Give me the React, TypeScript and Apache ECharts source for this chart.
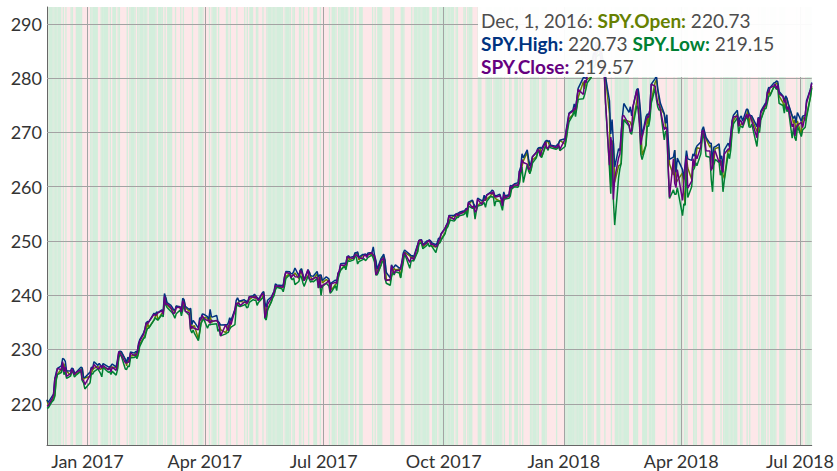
import React, { useEffect, useRef } from "react";
import * as echarts from "echarts";

// [day, open, high, low, close]
type Row = [number, number, number, number, number];

const dec2016: Row[] = [
  [1, 220.73, 220.73, 219.15, 219.57], [2, 219.67, 220.25, 219.26, 219.68], [5, 220.65, 221.4, 220.42, 221.0],
  [6, 221.22, 221.74, 220.66, 221.7], [7, 221.52, 224.67, 221.38, 224.6], [8, 224.57, 225.7, 224.26, 225.15],
  [9, 225.41, 226.53, 225.37, 226.51], [12, 226.4, 226.96, 225.76, 226.25], [13, 227.02, 228.34, 226.97, 227.76],
  [14, 227.41, 228.23, 225.37, 225.88], [15, 226.16, 227.81, 225.89, 226.81], [16, 226.01, 226.08, 224.67, 225.04],
  [19, 225.25, 226.02, 225.08, 225.53], [20, 226.15, 226.57, 225.88, 226.4], [21, 226.25, 226.45, 225.77, 225.77],
  [22, 225.6, 225.74, 224.92, 225.38], [23, 225.43, 225.72, 225.21, 225.71], [27, 226.02, 226.73, 226.0, 226.27],
  [28, 226.57, 226.59, 224.27, 224.4], [29, 224.48, 224.89, 223.84, 224.35], [30, 224.73, 224.83, 222.73, 223.53],
];
const jan2017: Row[] = [
  [3, 225.04, 225.83, 223.88, 225.24], [4, 225.62, 226.75, 225.61, 226.58], [5, 226.27, 226.58, 225.48, 226.4],
  [6, 226.53, 227.75, 225.9, 227.21], [9, 226.91, 227.07, 226.42, 226.46], [10, 226.48, 227.45, 226.01, 226.46],
  [11, 226.36, 227.1, 225.59, 227.1], [12, 226.5, 226.75, 224.96, 226.53], [13, 226.73, 227.4, 226.69, 227.05],
  [17, 226.4, 226.78, 225.8, 226.25], [18, 226.52, 226.8, 225.91, 226.75], [19, 226.84, 227.0, 225.41, 225.91],
  [20, 226.7, 227.31, 225.97, 226.74], [23, 226.74, 226.81, 225.27, 226.15], [24, 226.4, 228.08, 226.27, 227.6],
  [25, 228.7, 229.57, 228.51, 229.57], [26, 229.4, 229.71, 229.01, 229.33], [27, 229.42, 229.59, 228.76, 228.97],
  [30, 228.17, 228.2, 226.41, 227.55], [31, 226.98, 227.6, 226.32, 227.53],
];
const feb2017: Row[] = [
  [1, 228.49, 228.59, 226.94, 227.62], [2, 227.62, 228.1, 226.82, 227.77], [3, 228.82, 229.55, 228.46, 229.34],
  [6, 228.87, 229.33, 228.54, 228.93], [7, 229.38, 229.66, 228.72, 228.94], [8, 228.4, 229.39, 228.31, 229.24],
  [9, 229.24, 230.95, 229.24, 230.6], [10, 231.0, 231.77, 230.52, 231.51], [13, 232.08, 233.07, 232.04, 232.77],
  [14, 232.55, 233.71, 232.16, 233.7], [15, 233.45, 234.92, 233.18, 234.92], [16, 234.98, 235.15, 233.86, 234.72],
  [17, 234.01, 235.09, 233.93, 235.09], [21, 235.46, 236.69, 235.42, 236.49], [22, 236.05, 236.41, 235.84, 236.28],
  [23, 236.88, 236.9, 235.57, 236.44], [24, 235.43, 236.79, 235.42, 236.74], [27, 236.64, 237.31, 236.39, 237.11],
  [28, 236.88, 236.95, 236.02, 236.47],
];
const mar2017: Row[] = [
  [1, 238.39, 240.32, 238.37, 239.78], [2, 239.56, 239.57, 238.21, 238.27], [3, 238.17, 238.61, 237.73, 238.42],
  [6, 237.5, 238.12, 237.01, 237.71], [7, 237.37, 237.77, 236.76, 237.0], [8, 237.26, 237.36, 236.32, 236.56],
  [9, 236.68, 237.24, 235.74, 236.86], [10, 237.97, 238.02, 236.59, 237.69], [13, 237.62, 237.86, 237.24, 237.81],
  [14, 237.18, 237.24, 236.19, 236.9], [15, 237.56, 239.44, 237.29, 238.95], [16, 239.11, 239.2, 238.1, 238.48],
  [17, 237.75, 237.97, 237.03, 237.03], [20, 237.03, 237.36, 236.32, 236.77], [21, 237.47, 237.61, 233.58, 233.73],
  [22, 233.77, 234.61, 233.05, 234.28], [23, 234.28, 235.34, 233.6, 234.03], [24, 234.38, 235.04, 232.96, 233.86],
  [27, 231.93, 233.92, 231.61, 233.62], [28, 233.27, 235.81, 233.14, 235.32], [29, 234.99, 235.81, 234.73, 235.54],
  [30, 235.47, 236.52, 235.27, 236.29], [31, 235.91, 236.51, 235.68, 235.74],
];
const apr2017: Row[] = [
  [3, 235.81, 236.03, 233.91, 235.33], [4, 235.0, 235.58, 234.56, 235.48], [5, 236.26, 237.39, 234.54, 234.78],
  [6, 234.96, 236.04, 234.64, 235.44], [7, 235.18, 236.0, 234.64, 235.2], [10, 235.36, 236.26, 234.73, 235.34],
  [11, 235.0, 235.18, 233.34, 235.06], [12, 234.74, 234.96, 233.77, 234.03], [13, 233.64, 234.49, 232.51, 232.51],
  [17, 233.11, 234.57, 232.88, 234.57], [18, 233.72, 234.49, 233.08, 233.87], [19, 234.52, 234.95, 233.18, 233.44],
  [20, 233.91, 235.85, 233.78, 235.34], [21, 235.18, 235.31, 234.13, 234.59], [24, 237.18, 237.41, 234.56, 237.17],
  [25, 237.91, 239.04, 237.8, 238.55], [26, 238.51, 239.53, 238.35, 238.4], [27, 238.77, 238.95, 237.98, 238.6],
  [28, 238.9, 238.93, 237.93, 238.08],
];
const may2017: Row[] = [
  [1, 238.68, 239.17, 238.2, 238.68], [2, 238.84, 238.98, 238.3, 238.77], [3, 238.29, 238.88, 237.7, 238.48],
  [4, 238.83, 238.92, 237.78, 238.76], [5, 239.19, 239.72, 238.68, 239.7], [8, 239.75, 239.92, 239.17, 239.66],
  [9, 239.96, 240.19, 239.04, 239.44], [10, 239.39, 239.87, 239.15, 239.87], [11, 239.35, 239.57, 238.13, 239.38],
  [12, 239.09, 239.21, 238.67, 238.98], [15, 239.47, 240.44, 239.45, 240.3], [16, 240.62, 240.67, 239.63, 240.08],
  [17, 238.1, 238.64, 235.75, 235.82], [18, 235.73, 237.75, 235.43, 236.77], [19, 237.33, 239.08, 237.27, 238.31],
  [22, 238.9, 239.71, 238.82, 239.52], [23, 239.95, 240.24, 239.51, 240.05], [24, 240.32, 240.73, 239.93, 240.61],
  [25, 241.2, 242.08, 240.96, 241.76], [26, 241.54, 241.9, 241.45, 241.71], [30, 241.33, 241.79, 241.16, 241.5],
  [31, 241.84, 241.88, 240.64, 241.44],
];
const jun2017: Row[] = [
  [1, 241.97, 243.38, 241.64, 243.36], [2, 243.42, 244.35, 243.08, 244.17], [5, 243.99, 244.3, 243.76, 243.99],
  [6, 243.34, 243.98, 243.12, 243.21], [7, 243.6, 243.92, 242.83, 243.66], [8, 243.77, 244.33, 243.17, 243.78],
  [9, 244.09, 245.01, 241.95, 243.41], [12, 243.07, 243.57, 242.52, 243.36], [13, 243.99, 244.61, 243.58, 244.55],
  [14, 244.86, 244.87, 243.29, 244.24], [15, 242.68, 243.91, 242.36, 243.77], [16, 242.77, 242.83, 241.63, 242.64],
  [19, 243.59, 244.73, 243.48, 244.66], [20, 244.25, 244.26, 242.99, 243.01], [21, 243.43, 243.59, 242.41, 242.95],
  [22, 242.96, 243.53, 242.64, 242.84], [23, 242.91, 243.51, 242.47, 243.13], [26, 243.9, 244.38, 243.05, 243.29],
  [27, 243.04, 243.38, 241.31, 241.33], [28, 242.5, 243.72, 242.23, 243.49], [29, 243.66, 243.72, 239.96, 241.35],
  [30, 242.28, 242.71, 241.58, 241.8],
];
const jul2017: Row[] = [
  [3, 242.88, 243.38, 242.21, 242.21], [5, 242.63, 243.01, 241.7, 242.77], [6, 241.89, 242.03, 240.34, 240.55],
  [7, 240.99, 242.28, 240.64, 242.11], [10, 241.98, 242.8, 241.76, 242.37], [11, 242.2, 242.55, 240.85, 242.19],
  [12, 243.16, 244.04, 242.97, 243.99], [13, 244.25, 244.56, 243.96, 244.42], [14, 244.65, 245.78, 244.62, 245.56],
  [17, 245.51, 245.91, 245.33, 245.53], [18, 244.92, 245.73, 244.67, 245.66], [19, 246.0, 247.11, 245.97, 247.1],
  [20, 247.21, 247.25, 246.36, 247.04], [21, 246.5, 246.97, 246.23, 246.88], [24, 246.88, 247.11, 246.51, 246.82],
  [25, 247.42, 247.82, 247.16, 247.42], [26, 247.76, 247.8, 247.04, 247.43], [27, 247.83, 248.0, 245.75, 247.2],
  [28, 246.49, 247.01, 246.19, 246.91], [31, 247.39, 247.5, 246.56, 246.77],
];
const aug2017: Row[] = [
  [1, 247.46, 247.5, 246.72, 247.32], [2, 247.47, 247.6, 246.37, 247.44], [3, 247.31, 247.34, 246.64, 246.96],
  [4, 247.52, 247.79, 246.97, 247.41], [7, 247.49, 247.87, 247.37, 247.87], [8, 247.51, 248.91, 246.83, 247.26],
  [9, 246.47, 247.31, 246.06, 247.25], [10, 246.28, 246.44, 243.7, 243.76], [11, 243.88, 244.8, 243.75, 244.12],
  [14, 245.59, 246.79, 245.55, 246.54], [15, 247.1, 247.12, 246.17, 246.51], [16, 247.03, 247.57, 246.45, 246.94],
  [17, 246.44, 246.44, 243.08, 243.09], [18, 242.91, 244.19, 242.2, 242.71], [21, 242.64, 243.2, 241.83, 242.9],
  [22, 243.48, 245.61, 243.47, 245.44], [23, 244.33, 245.05, 244.16, 244.56], [24, 244.94, 245.2, 243.75, 243.99],
  [25, 244.66, 245.58, 244.32, 244.56], [28, 244.82, 245.0, 244.1, 244.57], [29, 243.28, 245.12, 243.17, 244.85],
  [30, 244.83, 246.21, 244.71, 246.01], [31, 246.72, 247.77, 246.05, 247.49],
];
const sep2017: Row[] = [
  [1, 247.92, 248.33, 247.67, 247.84], [5, 247.26, 247.52, 244.95, 246.06], [6, 246.84, 247.28, 246.29, 246.9],
  [7, 247.26, 247.27, 246.4, 246.87], [8, 246.54, 247.11, 246.3, 246.58], [11, 248.04, 249.3, 248.02, 249.21],
  [12, 249.73, 250.09, 249.38, 250.05], [13, 249.91, 250.19, 249.6, 250.17], [14, 249.73, 250.21, 249.59, 250.09],
  [15, 248.89, 249.29, 248.56, 249.19], [18, 249.61, 249.98, 249.19, 249.63], [19, 249.87, 250.05, 249.55, 249.98],
  [20, 250.09, 250.19, 248.92, 250.06], [21, 249.88, 249.98, 249.19, 249.39], [22, 249.05, 249.63, 248.95, 249.44],
  [25, 248.9, 249.29, 247.86, 248.93], [26, 249.42, 249.7, 248.81, 249.08], [27, 249.9, 250.49, 249.47, 249.94],
  [28, 249.73, 250.44, 249.63, 250.35], [29, 250.34, 251.32, 250.13, 251.23],
];
const oct2017: Row[] = [
  [2, 251.49, 252.32, 251.29, 252.32], [3, 252.48, 252.89, 252.23, 252.86], [4, 252.69, 253.44, 252.56, 253.16],
  [5, 253.54, 254.68, 253.2, 254.66], [6, 254.15, 254.7, 253.85, 254.37], [9, 254.6, 254.7, 253.65, 253.95],
  [10, 254.6, 254.91, 253.96, 254.62], [11, 254.46, 255.02, 254.32, 255.02], [12, 254.74, 255.11, 254.32, 254.64],
  [13, 255.14, 255.27, 254.64, 254.95], [16, 255.21, 255.51, 254.82, 255.29], [17, 255.23, 255.52, 254.98, 255.47],
  [18, 255.9, 255.95, 255.5, 255.72], [19, 254.83, 255.83, 254.35, 255.79], [20, 256.7, 257.14, 256.42, 257.11],
  [23, 257.48, 257.51, 256.02, 256.11], [24, 256.6, 256.83, 256.15, 256.56], [25, 256.18, 256.31, 254.0, 255.29],
  [26, 255.99, 256.3, 255.48, 255.62], [27, 256.47, 257.89, 256.41, 257.71], [30, 257.18, 257.44, 256.61, 256.75],
  [31, 257.18, 257.44, 256.81, 257.15],
];
const nov2017: Row[] = [
  [1, 258.04, 258.43, 257.07, 257.49], [2, 257.41, 257.75, 256.19, 257.59], [3, 257.77, 258.5, 257.3, 258.45],
  [6, 258.3, 259.0, 258.22, 258.85], [7, 258.97, 259.35, 258.09, 258.67], [8, 258.47, 259.22, 258.15, 259.11],
  [9, 258.0, 258.43, 256.41, 258.17], [10, 257.73, 258.29, 257.37, 258.09], [13, 257.31, 258.59, 257.27, 258.33],
  [14, 257.41, 257.85, 256.52, 257.73], [15, 256.61, 257.22, 255.63, 256.44], [16, 257.52, 259.04, 257.47, 258.62],
  [17, 258.22, 258.28, 257.71, 257.86], [20, 258.14, 258.52, 257.86, 258.3], [21, 258.87, 260.2, 258.26, 259.99],
  [22, 259.95, 260.12, 259.55, 259.76], [24, 260.0, 260.48, 259.96, 260.36], [27, 260.41, 260.75, 259.91, 260.23],
  [28, 260.76, 262.9, 260.66, 262.87], [29, 263.02, 263.63, 262.2, 262.71], [30, 263.76, 266.05, 263.67, 265.01],
];
const dec2017: Row[] = [
  [1, 264.76, 265.31, 260.76, 264.46], [4, 266.31, 266.8, 264.08, 264.14], [5, 264.2, 265.15, 262.9, 263.19],
  [6, 262.57, 263.85, 262.39, 263.24], [7, 263.2, 264.49, 263.15, 264.07], [8, 264.91, 265.52, 264.35, 265.51],
  [11, 265.55, 266.32, 265.33, 266.31], [12, 266.37, 267.0, 266.26, 266.78], [13, 267.09, 267.18, 266.63, 266.75],
  [14, 267.09, 267.22, 265.6, 265.66], [15, 265.45, 267.04, 265.39, 266.51], [18, 267.51, 268.39, 267.44, 268.2],
  [19, 268.48, 268.53, 267.09, 267.17], [20, 268.27, 268.33, 266.69, 267.03], [21, 267.6, 268.47, 267.56, 267.58],
  [22, 267.6, 267.64, 267.15, 267.51], [26, 267.05, 267.44, 266.89, 267.19], [27, 267.38, 267.73, 267.01, 267.32],
  [28, 267.89, 267.92, 267.45, 267.87], [29, 268.53, 268.55, 266.64, 266.86],
];
const jan2018: Row[] = [
  [2, 267.84, 268.81, 267.4, 268.77], [3, 268.96, 270.64, 268.96, 270.47], [4, 271.2, 272.16, 270.54, 271.61],
  [5, 272.51, 273.56, 271.95, 273.42], [8, 273.31, 274.1, 273.16, 273.92], [9, 274.4, 275.25, 274.08, 274.54],
  [10, 273.68, 274.42, 272.92, 274.12], [11, 274.75, 276.12, 274.56, 276.12], [12, 276.42, 278.11, 276.08, 277.92],
  [16, 279.35, 280.09, 276.18, 276.97], [17, 278.03, 280.05, 276.97, 279.61], [18, 279.48, 279.96, 277.98, 279.14],
  [19, 279.8, 280.41, 279.14, 280.41], [22, 280.17, 282.69, 280.11, 282.69], [23, 282.74, 283.62, 282.37, 283.29],
  [24, 284.02, 284.7, 281.84, 283.18], [25, 284.16, 284.27, 282.41, 283.3], [26, 284.25, 286.63, 283.96, 286.58],
  [29, 285.93, 286.43, 284.5, 284.68], [30, 282.6, 284.74, 281.22, 281.76], [31, 282.73, 283.3, 280.68, 281.9],
];
const feb2018: Row[] = [
  [1, 281.07, 283.06, 280.68, 281.58], [2, 280.08, 280.23, 275.41, 275.45], [5, 273.45, 275.85, 263.31, 263.93],
  [6, 259.94, 269.7, 258.7, 269.13], [7, 268.5, 272.36, 267.58, 267.67], [8, 267.97, 268.17, 257.59, 257.63],
  [9, 260.8, 263.61, 252.92, 261.5], [12, 263.83, 267.01, 261.66, 265.34], [13, 263.97, 266.62, 263.31, 266.0],
  [14, 264.31, 270.0, 264.3, 269.59], [15, 271.57, 273.04, 268.77, 273.03], [16, 272.32, 275.32, 272.27, 273.11],
  [20, 272.03, 273.67, 271.18, 271.4], [21, 271.9, 274.72, 269.94, 270.05], [22, 271.1, 273.05, 269.64, 270.4],
  [23, 271.79, 274.71, 271.25, 274.71], [26, 275.85, 277.91, 274.94, 277.9], [27, 277.83, 278.07, 274.35, 274.43],
  [28, 275.22, 275.98, 271.59, 271.65],
];
const mar2018: Row[] = [
  [1, 271.41, 273.17, 266.0, 267.7], [2, 265.8, 269.37, 264.97, 269.08], [5, 267.73, 272.89, 267.61, 272.19],
  [6, 273.3, 273.39, 271.18, 272.88], [7, 271.4, 273.22, 271.11, 272.78], [8, 273.4, 274.24, 272.42, 274.1],
  [9, 275.72, 278.87, 275.34, 278.87], [12, 279.2, 279.91, 278.08, 278.52], [13, 279.75, 280.41, 276.03, 276.72],
  [14, 277.81, 278.02, 274.67, 275.3], [15, 275.88, 276.71, 274.1, 275.0], [16, 274.5, 275.39, 274.14, 274.2],
  [19, 273.35, 273.42, 268.62, 270.49], [20, 270.94, 271.67, 270.18, 270.95], [21, 270.9, 273.26, 270.19, 270.43],
  [22, 267.91, 268.87, 263.36, 263.67], [23, 264.17, 265.02, 257.83, 258.05], [26, 262.13, 265.43, 259.41, 265.11],
  [27, 266.72, 266.74, 258.58, 260.6], [28, 260.75, 262.64, 258.58, 259.83], [29, 261.12, 265.26, 259.84, 263.15],
];
const apr2018: Row[] = [
  [2, 262.55, 263.13, 254.67, 257.47], [3, 258.87, 261.31, 256.84, 260.77], [4, 256.75, 264.36, 256.6, 263.56],
  [5, 265.55, 266.64, 264.32, 265.64], [6, 263.42, 265.11, 258.0, 259.72], [9, 261.37, 264.84, 259.99, 261.0],
  [10, 264.27, 266.04, 262.98, 265.15], [11, 263.47, 265.64, 263.39, 263.76], [12, 264.97, 266.94, 264.43, 265.93],
  [13, 267.17, 267.5, 263.86, 265.15], [16, 267.0, 268.2, 266.06, 267.33], [17, 269.17, 270.49, 268.71, 270.19],
  [18, 270.56, 271.05, 269.77, 270.39], [19, 269.59, 270.05, 267.92, 268.89], [20, 268.81, 269.06, 265.61, 266.61],
  [23, 267.26, 267.98, 265.4, 266.57], [24, 267.71, 268.0, 261.32, 262.98], [25, 263.24, 264.29, 259.05, 263.63],
  [26, 264.75, 267.25, 263.94, 266.31], [27, 267.0, 267.34, 265.05, 266.56], [30, 267.26, 267.89, 264.43, 264.51],
];
const may2018: Row[] = [
  [1, 263.87, 265.1, 262.11, 264.98], [2, 264.76, 265.68, 263.08, 263.2], [3, 262.26, 263.36, 259.05, 262.62],
  [4, 261.51, 266.79, 261.15, 266.02], [7, 266.89, 268.02, 266.11, 266.92], [8, 266.5, 267.32, 265.15, 266.92],
  [9, 267.67, 269.78, 266.85, 269.5], [10, 270.32, 272.19, 270.2, 272.02], [11, 272.17, 273.15, 271.56, 272.85],
  [14, 273.34, 274.07, 272.68, 272.98], [15, 271.61, 271.61, 269.79, 271.1], [16, 271.14, 272.73, 271.02, 272.24],
  [17, 271.6, 273.04, 271.11, 272.01], [18, 271.47, 272.04, 270.84, 271.33], [21, 273.03, 274.25, 272.91, 273.37],
  [22, 274.1, 274.24, 272.34, 272.61], [23, 271.17, 273.39, 270.98, 273.36], [24, 272.98, 273.06, 270.96, 272.89],
  [25, 272.61, 273.06, 271.56, 272.15], [29, 270.21, 271.05, 267.4, 269.02], [30, 270.18, 272.77, 270.09, 272.61],
  [31, 272.12, 272.21, 269.99, 270.94],
];
const jun2018: Row[] = [
  [1, 272.41, 273.93, 272.33, 273.6], [4, 274.53, 275.18, 274.34, 274.9], [5, 275.24, 275.5, 274.41, 275.1],
  [6, 275.79, 277.52, 275.48, 277.4], [7, 277.87, 278.28, 276.66, 277.37], [8, 276.88, 278.24, 276.73, 278.19],
  [11, 278.41, 279.09, 278.4, 278.56], [12, 278.67, 279.21, 278.31, 278.92], [13, 279.11, 279.48, 277.92, 278.03],
  [14, 278.94, 279.33, 278.02, 278.73], [15, 276.68, 277.51, 275.35, 277.13], [18, 275.49, 276.7, 274.95, 276.56],
  [19, 274.04, 275.75, 273.53, 275.5], [20, 276.26, 276.72, 275.65, 275.97], [21, 276.2, 276.29, 273.81, 274.24],
  [22, 275.14, 275.34, 274.41, 274.74], [25, 272.91, 273.07, 268.95, 271.0], [26, 271.64, 272.56, 270.79, 271.6],
  [27, 272.26, 273.07, 269.03, 269.35], [28, 269.29, 271.75, 268.49, 270.89], [29, 272.12, 273.66, 271.15, 271.28],
];
const jul2018: Row[] = [
  [2, 269.51, 272.04, 269.24, 271.86], [3, 272.87, 272.98, 270.42, 270.9], [5, 272.17, 273.18, 270.96, 273.11],
  [6, 273.14, 275.84, 272.71, 275.42], [9, 276.55, 277.96, 276.5, 277.9], [10, 278.53, 279.19, 278.2, 279.04],
];

const months: [number, number, Row[]][] = [
  [2016, 12, dec2016], [2017, 1, jan2017], [2017, 2, feb2017], [2017, 3, mar2017], [2017, 4, apr2017],
  [2017, 5, may2017], [2017, 6, jun2017], [2017, 7, jul2017], [2017, 8, aug2017], [2017, 9, sep2017],
  [2017, 10, oct2017], [2017, 11, nov2017], [2017, 12, dec2017], [2018, 1, jan2018], [2018, 2, feb2018],
  [2018, 3, mar2018], [2018, 4, apr2018], [2018, 5, may2018], [2018, 6, jun2018], [2018, 7, jul2018],
];

const seriesNames = ["SPY.Open", "SPY.High", "SPY.Low", "SPY.Close"];
const seriesColors = ["#668000", "#003380", "#008033", "#660080"];
const quarterTicks = ["2017-01-01", "2017-04-01", "2017-07-01", "2017-10-01", "2018-01-01", "2018-04-01", "2018-07-01"];
const yTicks = [220, 230, 240, 250, 260, 270, 280, 290];
const monthNames = ["Jan", "Feb", "Mar", "Apr", "May", "Jun", "Jul", "Aug", "Sep", "Oct", "Nov", "Dec"];
const Y_MIN = 212.4;
const Y_MAX = 293.1;

const FONT = "Lato, 'Open Sans', sans-serif";
const PINK = "#fde7e9";
const GREEN = "#d3eedc";

export default function App() {
  const ref = useRef<HTMLDivElement>(null);
  useEffect(() => {
    document.body.style.margin = "0";
    if (!ref.current) return;
    const chart = echarts.init(ref.current, undefined, { renderer: "svg" });

    const days: { t: number; v: number[] }[] = [];
    months.forEach(([y, m, rows]) => {
      rows.forEach((r) => {
        days.push({ t: Date.UTC(y, m - 1, r[0]), v: [r[1], r[2], r[3], r[4]] });
      });
    });
    const xMin = days[0].t;
    const xMax = days[days.length - 1].t;

    // each trading day fills up to the next one: green when close is above open
    const bg: number[][] = [];
    days.forEach((d, i) => {
      if (i < days.length - 1 && d.v[3] >= d.v[0]) bg.push([d.t, days[i + 1].t]);
    });

    const qTs = quarterTicks.map((s) => Date.parse(s + "T00:00:00Z"));

    const first = days[0];
    const d0 = new Date(first.t);
    const dateStr = `${monthNames[d0.getUTCMonth()]}, ${d0.getUTCDate()}, ${d0.getUTCFullYear()}: `;
    const fmt = (v: number) => v.toFixed(2);

    const lineSeries = seriesNames.map((name, k) => ({
      name,
      type: "line",
      data: days.map((d) => [d.t, d.v[k]]),
      showSymbol: false,
      symbol: "none",
      z: 3,
      lineStyle: { color: seriesColors[k], width: 1.5 },
      itemStyle: { color: seriesColors[k] },
      emphasis: { disabled: true },
      silent: true,
    }));

    const richBase = { fontFamily: FONT, fontSize: 19, fill: "#4d4d4d" };
    const richName = (c: string) => ({ fontFamily: FONT, fontSize: 19, fontWeight: "bold", fill: c });

    const option: any = {
      animation: false,
      grid: {
        left: 47, right: 9, top: 7, bottom: 26, containLabel: false,
        show: true, backgroundColor: PINK, borderWidth: 0,
      },
      xAxis: {
        type: "value",
        min: xMin,
        max: xMax,
        axisLine: { show: true, lineStyle: { color: "#666", width: 1 } },
        axisTick: { show: false },
        splitLine: { show: false },
        axisLabel: {
          customValues: qTs,
          color: "#333",
          fontFamily: FONT,
          fontSize: 18,
          lineHeight: 18,
          margin: 7,
          formatter: (v: number) => {
            const d = new Date(v);
            return `${monthNames[d.getUTCMonth()]} ${d.getUTCFullYear()}`;
          },
        },
      },
      yAxis: {
        type: "value",
        min: Y_MIN,
        max: Y_MAX,
        axisLine: { show: true, lineStyle: { color: "#666", width: 1 } },
        axisTick: { show: false },
        splitLine: { show: false },
        axisLabel: {
          customValues: yTicks,
          color: "#333",
          fontFamily: FONT,
          fontSize: 18,
          margin: 5,
          formatter: (v: number) => String(v),
        },
      },
      series: [
        {
          type: "custom",
          z: 0,
          silent: true,
          clip: true,
          encode: { x: [0, 1] },
          data: bg,
          renderItem: (params: any, api: any) => {
            const x0 = api.coord([api.value(0), Y_MAX])[0];
            const x1 = api.coord([api.value(1), Y_MAX])[0];
            const cs = params.coordSys;
            return {
              type: "rect",
              shape: { x: x0, y: cs.y, width: Math.max(0, x1 - x0), height: cs.height },
              style: { fill: GREEN },
            };
          },
          markLine: {
            silent: true,
            symbol: "none",
            z: 1,
            animation: false,
            label: { show: false },
            lineStyle: { color: "#a3a3a3", width: 1, type: "solid" },
            emphasis: { disabled: true },
            data: [...qTs.map((t) => ({ xAxis: t })), ...yTicks.map((v) => ({ yAxis: v }))],
          },
        },
        ...lineSeries,
      ],
      graphic: [
        {
          type: "rect",
          z: 100,
          shape: { x: 478, y: 7, width: 350, height: 70 },
          style: { fill: "rgba(255,255,255,0.94)" },
          silent: true,
        },
        {
          type: "text",
          z: 101,
          x: 481,
          y: 20.5,
          silent: true,
          style: {
            text: `{d|${dateStr}}{o|${seriesNames[0]}:}{d| ${fmt(first.v[0])}}`,
            verticalAlign: "middle",
            rich: { d: richBase, o: richName(seriesColors[0]) },
          },
        },
        {
          type: "text",
          z: 101,
          x: 481,
          y: 43.5,
          silent: true,
          style: {
            text: `{h|${seriesNames[1]}:}{d| ${fmt(first.v[1])} }{l|${seriesNames[2]}:}{d| ${fmt(first.v[2])}}`,
            verticalAlign: "middle",
            rich: { d: richBase, h: richName(seriesColors[1]), l: richName(seriesColors[2]) },
          },
        },
        {
          type: "text",
          z: 101,
          x: 481,
          y: 66.5,
          silent: true,
          style: {
            text: `{c|${seriesNames[3]}:}{d| ${fmt(first.v[3])}}`,
            verticalAlign: "middle",
            rich: { d: richBase, c: richName(seriesColors[3]) },
          },
        },
      ],
    };

    chart.setOption(option);
    return () => chart.dispose();
  }, []);

  return <div ref={ref} style={{ width: 837, height: 471 }} />;
}
